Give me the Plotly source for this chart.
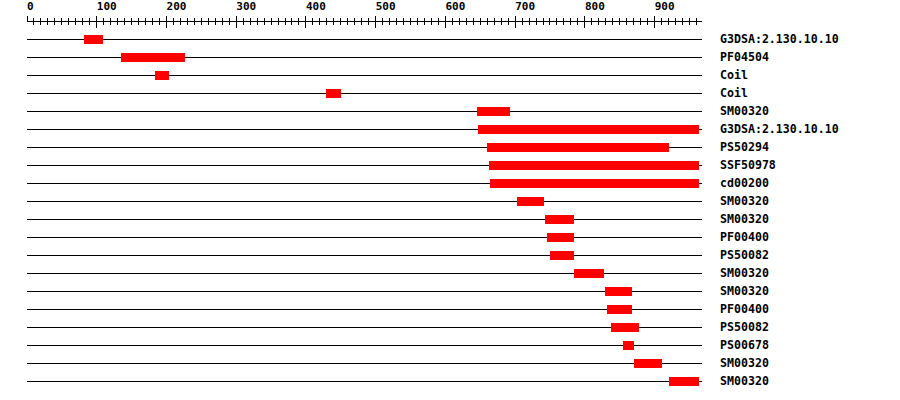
import plotly.graph_objects as go

# ---- data ----
labels = ["G3DSA:2.130.10.10", "PF04504", "Coil", "Coil", "SM00320",
          "G3DSA:2.130.10.10", "PS50294", "SSF50978", "cd00200", "SM00320",
          "SM00320", "PF00400", "PS50082", "SM00320", "SM00320",
          "PF00400", "PS50082", "PS00678", "SM00320", "SM00320"]
starts = [82, 135, 183, 429, 646, 647, 659, 663, 664, 702,
          743, 745, 750, 784, 829, 832, 837, 854, 870, 920]
ends = [109, 226, 204, 451, 692, 963, 920, 963, 963, 742,
        785, 784, 784, 827, 868, 868, 878, 870, 911, 964]
seq_length = 968
major_ticks = [0, 100, 200, 300, 400, 500, 600, 700, 800, 900]
major_labels = ["0", "100", "200", "300", "400", "500", "600", "700", "800", "900"]

rows = list(range(len(labels)))
lengths = [e - s for s, e in zip(starts, ends)]
NB = "\u00a0"
tick_text = [t + NB * (3 - len(t)) for t in major_labels]

fig = go.Figure()
fig.add_trace(go.Bar(
    orientation="h", y=rows, x=lengths, base=starts, width=0.5,
    marker=dict(color="#FF0000", line=dict(width=0)),
    hoverinfo="skip", showlegend=False,
))
# invisible trace to register the second (downward-tick) axis
fig.add_trace(go.Scatter(x=[0], y=[0], xaxis="x2", mode="markers",
                         marker=dict(opacity=0), hoverinfo="skip", showlegend=False))

font_tick = dict(family="DejaVu Sans Mono", size=11, color="black", weight="bold")
font_lab = dict(family="DejaVu Sans Mono", size=11.6, color="black", weight="bold")

common_x = dict(range=[0, seq_length], side="top", tickvals=major_ticks,
                showgrid=False, zeroline=False, tickwidth=1, tickcolor="black",
                fixedrange=True, automargin=False)

fig.update_layout(
    width=900, height=400,
    margin=dict(l=27, r=198, t=22, b=6, pad=0, autoexpand=False),
    paper_bgcolor="white", plot_bgcolor="white",
    bargap=0,
    hovermode=False,
    xaxis=dict(**common_x, ticktext=tick_text, ticks="outside", ticklen=5,
               showline=True, linecolor="black", linewidth=1,
               tickfont=font_tick, ticklabelshift=10, ticklabelstandoff=2,
               minor=dict(dtick=10, tick0=0, ticks="outside", ticklen=3,
                          tickwidth=1, tickcolor="black", showgrid=False),
               anchor="y"),
    xaxis2=dict(**common_x, overlaying="x", ticks="inside", ticklen=6,
                showticklabels=False, showline=False, anchor="y",
                minor=dict(dtick=10, tick0=0, ticks="inside", ticklen=3,
                           tickwidth=1, tickcolor="black", showgrid=False)),
    yaxis=dict(range=[355 / 18, -17 / 18], tickvals=rows, ticktext=labels,
               side="right", showgrid=True, gridcolor="black", gridwidth=1,
               zeroline=False, showline=False, ticks="", automargin=False,
               ticklabelstandoff=17, tickfont=font_lab, fixedrange=True),
)

fig.write_html("out.html", config={"displayModeBar": False, "staticPlot": True},
               post_script="document.body.style.margin='0px';")
